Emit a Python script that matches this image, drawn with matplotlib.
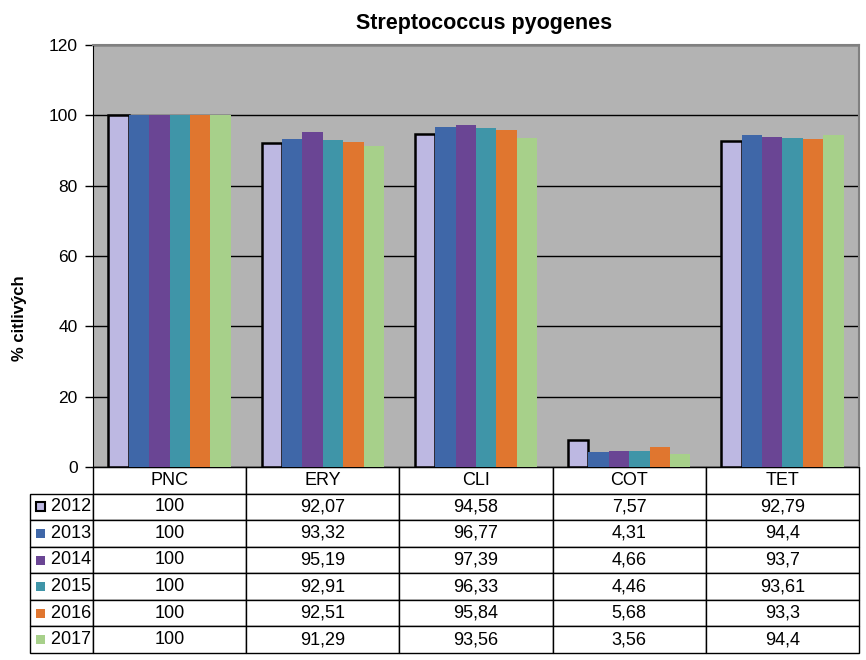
import matplotlib
matplotlib.use("Agg")
import matplotlib.pyplot as plt
from matplotlib.patches import Rectangle
import numpy as np

plt.rcParams['font.family'] = ['Liberation Sans', 'DejaVu Sans']

categories = ["PNC", "ERY", "CLI", "COT", "TET"]
years = ["2012", "2013", "2014", "2015", "2016", "2017"]
v2012 = [100, 92.07, 94.58, 7.57, 92.79]
v2013 = [100, 93.32, 96.77, 4.31, 94.4]
v2014 = [100, 95.19, 97.39, 4.66, 93.7]
v2015 = [100, 92.91, 96.33, 4.46, 93.61]
v2016 = [100, 92.51, 95.84, 5.68, 93.3]
v2017 = [100, 91.29, 93.56, 3.56, 94.4]
series = [v2012, v2013, v2014, v2015, v2016, v2017]
colors = ["#BDB8E2", "#3F67A8", "#6A4594", "#3F95A8", "#E0762F", "#A7D08A"]

def fmt(v):
    s = ("%.2f" % v).rstrip('0').rstrip('.')
    return s.replace('.', ',')

fig = plt.figure(figsize=(8.66, 6.6), dpi=100)
ax = fig.add_axes([93/866, (660-467)/660, 766/866, 422/660])
ax.set_facecolor("#B3B3B3")

n = len(series)
bw = 0.8 / n
x = np.arange(len(categories))
for i, (vals, c) in enumerate(zip(series, colors)):
    off = (i - (n - 1) / 2) * bw
    if i == 0:
        ax.bar(x + off, vals, bw, color=c, edgecolor="black", linewidth=1.8, zorder=3)
    else:
        ax.bar(x + off, vals, bw, color=c, linewidth=0, zorder=3)

ax.set_xlim(-0.5, len(categories) - 0.5)
ax.set_ylim(0, 120)
ax.set_yticks(range(0, 121, 20))
ax.tick_params(axis='y', labelsize=12.5, length=6, width=1, direction='out', pad=5)
ax.set_xticks([])
ax.yaxis.grid(True, color="black", linewidth=1)
ax.set_axisbelow(True)
for s in ["top", "right"]:
    ax.spines[s].set_color("#808080")
    ax.spines[s].set_linewidth(1.5)
ax.spines["left"].set_color("black")
ax.spines["bottom"].set_color("black")

fig.text(20/866, 1 - 318/660, "% citlivých", rotation=90, fontsize=12,
         fontweight='bold', ha='center', va='center')
fig.text(484/866, 1 - 23/660, "Streptococcus pyogenes", fontsize=15.5,
         fontweight='bold', ha='center', va='center')

cell_text = [[""] + categories]
for y, vals in zip(years, series):
    cell_text.append(["    " + y] + [fmt(v) for v in vals])
x0 = (30 - 93) / 766
tb_h = (653 - 467) / 422
tbl = ax.table(cellText=cell_text, cellLoc='center',
               bbox=[x0, -tb_h, 1 - x0, tb_h])
tbl.auto_set_font_size(False)
tbl.set_fontsize(13)
for (r, c), cell in tbl.get_celld().items():
    cell.set_edgecolor("black")
    cell.set_linewidth(1)
    cell.set_facecolor("white")
    cell.set_width(63 if c == 0 else 153.2)
    if c == 0:
        cell.get_text().set_ha('left')
        cell.PAD = 0.02
        if r == 0:
            cell.set_linewidth(0)
            cell.set_facecolor("none")

rh = tb_h / (len(years) + 1)
sq_w = 9 / 766
sq_h = 9 / 422
for i, c in enumerate(colors):
    yc = -tb_h + (len(years) - i - 0.5) * rh
    ax.add_patch(Rectangle(((36 - 93) / 766, yc - sq_h / 2), sq_w, sq_h,
                           transform=ax.transAxes, clip_on=False,
                           facecolor=c, edgecolor="black" if i == 0 else c,
                           linewidth=1.5 if i == 0 else 0, zorder=10))

fig.savefig("out.png", dpi=100, facecolor="white")
